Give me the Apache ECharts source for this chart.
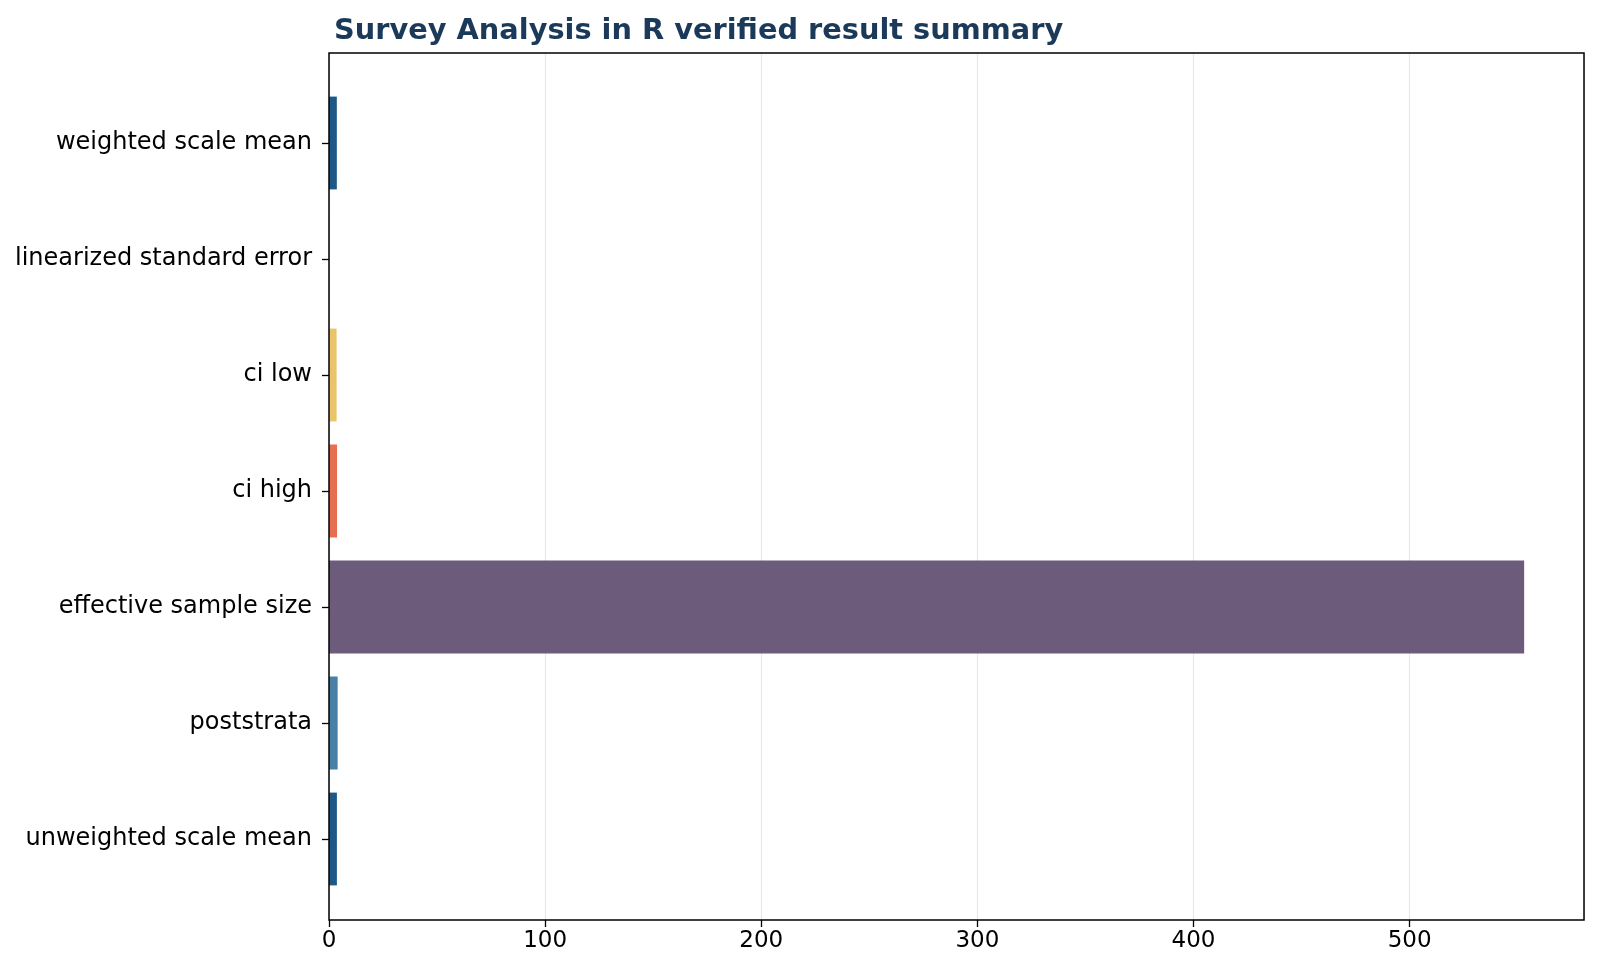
<!DOCTYPE html>
<html>
<head>
<meta charset="utf-8">
<script src="https://cdn.jsdelivr.net/npm/echarts@6/dist/echarts.min.js"></script>
<style>
  html, body { margin: 0; padding: 0; background: #fff; }
  #chart { width: 1600px; height: 978px; }
</style>
</head>
<body>
<div id="chart"></div>
<script>
// 数据
const categories = [
    'unweighted scale mean',
    'poststrata',
    'effective sample size',
    'ci high',
    'ci low',
    'linearized standard error',
    'weighted scale mean'
]
const values = [3.65, 4, 553, 3.72, 3.52, 0.05, 3.62]
const barColors = ['#1d5886', '#4a80a6', '#624f71', '#e76f51', '#e9c46a', '#2a9d8f', '#1d5886']
const barOpacity = [1, 1, 0.93, 1, 1, 1, 1]
const xTicks = [0, 100, 200, 300, 400, 500]

const xMax = 580.7
const font = 'DejaVu Sans'

const myChart = echarts.init(document.getElementById('chart'))

const option = {
    backgroundColor: '#fff',
    animation: false,
    title: {
        text: 'Survey Analysis in R verified result summary',
        left: 329,
        top: 12,
        textStyle: { fontFamily: font, fontWeight: 'bold', fontSize: 28.8, color: '#1b3a5a' }
    },
    grid: [
        // 外框，放在柱子上面
        { left: 329, right: 16, top: 53, bottom: 58, show: true, z: 10, borderColor: '#000', borderWidth: 1.5, backgroundColor: 'transparent' },
        // 柱子区域（上下留白）
        { left: 329, right: 16, top: 85, bottom: 81 }
    ],
    xAxis: [
        {
            gridIndex: 0, type: 'value', min: 0, max: xMax,
            axisLine: { show: false },
            axisTick: { show: true, length: 7, lineStyle: { color: '#000', width: 1.3 }, customValues: xTicks },
            axisLabel: {
                fontFamily: font, fontSize: 23, color: '#000', margin: 10,
                customValues: xTicks
            },
            splitLine: { show: false }
        },
        {
            gridIndex: 1, type: 'value', min: 0, max: xMax, show: false,
            splitLine: { show: false }
        },
        {
            // 网格线，铺满整个外框
            gridIndex: 0, type: 'value', min: 0, max: xMax, interval: 100,
            axisLine: { show: false }, axisTick: { show: false }, axisLabel: { show: false },
            splitLine: { show: true, lineStyle: { color: '#e8e8e8', width: 1.2 } }
        }
    ],
    yAxis: [
        {
            gridIndex: 0, type: 'value', show: false
        },
        {
            gridIndex: 1, type: 'category', data: categories,
            axisLine: { show: false },
            axisTick: { show: true, alignWithLabel: true, length: 7, lineStyle: { color: '#000', width: 1.3 } },
            axisLabel: { fontFamily: font, fontSize: 24, color: '#000', margin: 17 },
            splitLine: { show: false }
        }
    ],
    series: [{
        type: 'bar',
        xAxisIndex: 1,
        yAxisIndex: 1,
        barCategoryGap: '20%',
        data: values.map((v, i) => ({
            value: v,
            itemStyle: { color: barColors[i], opacity: barOpacity[i] }
        }))
    }]
}

myChart.setOption(option)
</script>
</body>
</html>
